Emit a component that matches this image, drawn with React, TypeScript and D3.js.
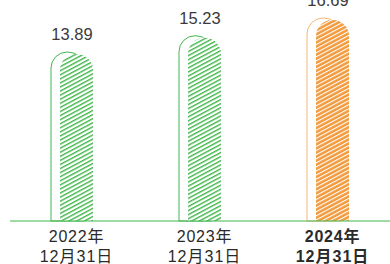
import {useEffect, useRef} from "react";
import * as d3 from 'd3';

const categories = ['2022', '2023', '2024'];
const values = [13.89, 15.23, 16.69];
const valueLabels = ['13.89', '15.23', '16.69'];
const labelLine1 = ['2022年', '2023年', '2024年'];
const labelLine2 = ['12月31日', '12月31日', '12月31日'];
const highlight = [false, false, true];

const GREEN = '#42b54c';
const ORANGE = '#f29a3c';
const ORANGE_LIGHT = '#f5b878';

// path with rounded top corners, flat bottom
function topRounded(x: number, y: number, w: number, h: number, r: number) {
  const rr = Math.min(r, w / 2, h);
  return `M${x},${y + h}V${y + rr}A${rr},${rr} 0 0 1 ${x + rr},${y}H${x + w - rr}A${rr},${rr} 0 0 1 ${x + w},${y + rr}V${y + h}Z`;
}

export default function App() {
  const svgRef = useRef<SVGSVGElement>(null);
  const width = 390;
  const height = 264;

  useEffect(() => {
    document.body.style.margin = '0';
    d3.select(svgRef.current).selectAll('*').remove();

    const svg = d3.select(svgRef.current)
      .attr('width', width)
      .attr('height', height);

    const baseY = 221;
    const x = d3.scaleBand<string>()
      .domain(categories)
      .range([12.5, 396.5])
      .padding(0);

    const y = d3.scaleLinear()
      .domain([0, 16.69])
      .range([baseY, 18]);

    const defs = svg.append('defs');
    // green hatch: white with green lines
    const pg = defs.append('pattern')
      .attr('id', 'hatchGreen')
      .attr('patternUnits', 'userSpaceOnUse')
      .attr('width', 8).attr('height', 3.6)
      .attr('patternTransform', 'rotate(-28)');
    pg.append('rect').attr('width', 8).attr('height', 3.6).attr('fill', '#fff');
    pg.append('rect').attr('y', 0).attr('width', 8).attr('height', 1.4).attr('fill', GREEN);

    // orange hatch: orange with white lines
    const po = defs.append('pattern')
      .attr('id', 'hatchOrange')
      .attr('patternUnits', 'userSpaceOnUse')
      .attr('width', 8).attr('height', 3.6)
      .attr('patternTransform', 'rotate(-28)');
    po.append('rect').attr('width', 8).attr('height', 3.6).attr('fill', ORANGE);
    po.append('rect').attr('y', 0).attr('width', 8).attr('height', 1.1).attr('fill', '#fff');

    const barW = 33;
    const offset = 9;

    const g = svg.append('g');

    categories.forEach((c, i) => {
      const cx = (x(c) as number) + x.bandwidth() / 2;
      const hx = cx - barW / 2;
      const ox = hx - offset;
      const top = y(values[i]);
      const hl = highlight[i];

      g.append('path')
        .attr('d', topRounded(ox, top, barW, baseY - top, 16))
        .attr('fill', 'none')
        .attr('stroke', hl ? ORANGE_LIGHT : GREEN)
        .attr('stroke-width', 1);

      g.append('path')
        .attr('d', topRounded(hx, top + 2, barW, baseY - top - 2, 16))
        .attr('fill', hl ? 'url(#hatchOrange)' : 'url(#hatchGreen)');

      g.append('text')
        .attr('x', ox + 21)
        .attr('y', top - 12)
        .attr('text-anchor', 'middle')
        .attr('font-family', '"Liberation Sans", Arial, sans-serif')
        .attr('font-size', 16.5)
        .attr('fill', '#3a3a3a')
        .text(valueLabels[i]);

      const lab = g.append('text')
        .attr('text-anchor', 'middle')
        .attr('font-family', '"Liberation Sans", "Noto Sans CJK SC", sans-serif')
        .attr('font-size', 16)
        .attr('font-weight', hl ? 'bold' : 'normal')
        .attr('fill', '#2a2a2a');
      lab.append('tspan').attr('x', cx).attr('y', 242).attr('letter-spacing', 0.8).text(labelLine1[i]);
      lab.append('tspan').attr('x', cx).attr('y', 262).attr('letter-spacing', 1).text(labelLine2[i]);
    });

    g.append('line')
      .attr('x1', 10).attr('x2', 390)
      .attr('y1', baseY).attr('y2', baseY)
      .attr('stroke', GREEN)
      .attr('stroke-width', 1.2);
  }, []);

  return (
    <div>
      <svg ref={svgRef}></svg>
    </div>
  );
}
